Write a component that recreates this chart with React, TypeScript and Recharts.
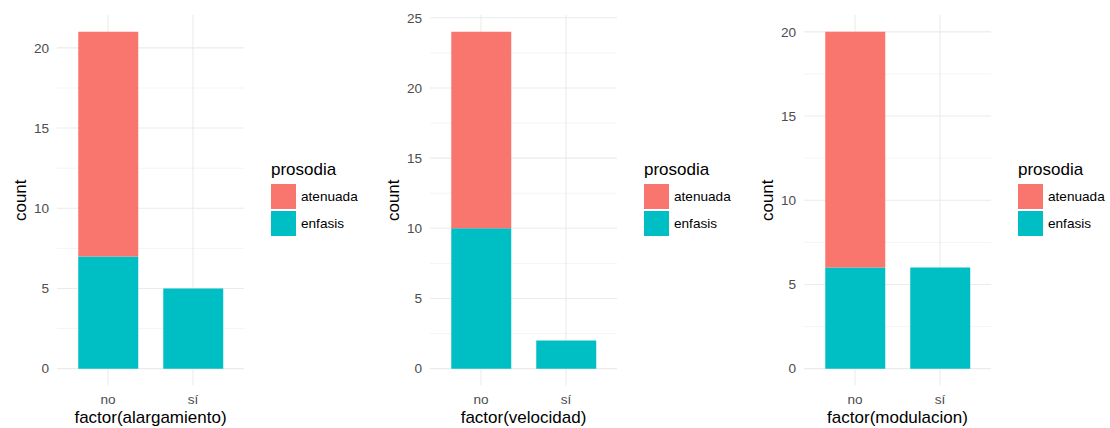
import React from "react";
import { BarChart, Bar, XAxis, YAxis, CartesianGrid, Legend } from "recharts";

const categories = ["no", "sí"];
const seriesNames = ["atenuada", "enfasis"];
const seriesColors = ["#F8766D", "#00BFC4"];

const alargamientoAtenuada = [14, 0];
const alargamientoEnfasis = [7, 5];
const velocidadAtenuada = [14, 0];
const velocidadEnfasis = [10, 2];
const modulacionAtenuada = [14, 0];
const modulacionEnfasis = [6, 6];

const alargamientoTicks = [0, 5, 10, 15, 20];
const velocidadTicks = [0, 5, 10, 15, 20, 25];
const modulacionTicks = [0, 5, 10, 15, 20];

const alargamientoMinor = [2.5, 7.5, 12.5, 17.5];
const velocidadMinor = [2.5, 7.5, 12.5, 17.5, 22.5];
const modulacionMinor = [2.5, 7.5, 12.5, 17.5];

const FONT = "'Liberation Sans', Arial, Helvetica, sans-serif";

// legend drawn like ggplot's guide: title + square keys
const PanelLegend = () => (
	<div style={{ fontFamily: FONT, color: "#000" }}>
		<div style={{ fontSize: 17, lineHeight: "20px", height: 20, marginBottom: 4 }}>
			prosodia
		</div>
		{seriesNames.map((name, i) => (
			<div
				key={name}
				style={{ display: "flex", alignItems: "center", height: 25, marginBottom: 2 }}
			>
				<div style={{ width: 25, height: 25, background: seriesColors[i] }} />
				<span style={{ fontSize: 13.6, marginLeft: 5 }}>{name}</span>
			</div>
		))}
	</div>
);

type PanelProps = {
	xTitle: string;
	atenuada: number[];
	enfasis: number[];
	ticks: number[];
	minor: number[];
	left: number;
};

const Panel = ({ xTitle, atenuada, enfasis, ticks, minor, left }: PanelProps) => {
	const data = categories.map((c, i) => ({
		cat: c,
		atenuada: atenuada[i],
		enfasis: enfasis[i],
	}));
	const top = Math.max(...data.map((d) => d.atenuada + d.enfasis));
	// ggplot default 5% expansion
	const pad = top * 0.05;

	const xLabel = (props: any) => {
		const vb = props.viewBox || { x: 57, y: 385.5, width: 187, height: 42.5 };
		return (
			<text
				x={vb.x + vb.width / 2}
				y={vb.y + 37.5}
				textAnchor="middle"
				fontFamily={FONT}
				fontSize={17}
				fill="#000"
			>
				{xTitle}
			</text>
		);
	};

	const yLabel = (props: any) => {
		const vb = props.viewBox || { x: 0, y: 15, width: 57, height: 370.5 };
		const cx = vb.x + vb.width - 37;
		const cy = vb.y + vb.height / 2;
		return (
			<text
				x={cx}
				y={cy}
				transform={`rotate(-90 ${cx} ${cy})`}
				textAnchor="middle"
				dominantBaseline="central"
				fontFamily={FONT}
				fontSize={17}
				fill="#000"
			>
				count
			</text>
		);
	};

	return (
		<div style={{ position: "absolute", left, top: 0 }}>
			<BarChart
				width={363}
				height={428}
				data={data}
				margin={{ top: 15, right: 119, bottom: 0, left: 0 }}
				barCategoryGap="15%"
			>
				<CartesianGrid
					horizontalValues={minor}
					vertical={false}
					syncWithTicks
					stroke="#f1f1f1"
					strokeWidth={0.8}
				/>
				<CartesianGrid
					horizontalValues={ticks}
					syncWithTicks
					stroke="#ebebeb"
					strokeWidth={1.07}
				/>
				<XAxis
					dataKey="cat"
					height={42.5}
					padding={{ left: 8.5, right: 8.5 }}
					axisLine={false}
					tickLine={false}
					tickSize={0}
					tickMargin={9}
					tick={{ fill: "#4d4d4d", fontSize: 13.6, fontFamily: FONT }}
					label={xLabel}
				/>
				<YAxis
					type="number"
					width={57}
					domain={[-pad, top + pad]}
					ticks={ticks}
					allowDataOverflow
					axisLine={false}
					tickLine={false}
					tickSize={0}
					tickMargin={8}
					tick={{ fill: "#4d4d4d", fontSize: 13.6, fontFamily: FONT }}
					label={yLabel}
				/>
				<Bar dataKey="enfasis" stackId="a" fill={seriesColors[1]} isAnimationActive={false} />
				<Bar dataKey="atenuada" stackId="a" fill={seriesColors[0]} isAnimationActive={false} />
				<Legend
					layout="horizontal"
					align="center"
					verticalAlign="middle"
					content={() => <PanelLegend />}
					wrapperStyle={{ left: 271, top: 160, width: 130, height: 80 }}
				/>
			</BarChart>
		</div>
	);
};

export default function App() {
	return (
		<div
			style={{
				position: "absolute",
				left: 0,
				top: 0,
				width: 1110,
				height: 428,
				background: "#fff",
				overflow: "hidden",
			}}
		>
			<Panel
				xTitle="factor(alargamiento)"
				atenuada={alargamientoAtenuada}
				enfasis={alargamientoEnfasis}
				ticks={alargamientoTicks}
				minor={alargamientoMinor}
				left={0}
			/>
			<Panel
				xTitle="factor(velocidad)"
				atenuada={velocidadAtenuada}
				enfasis={velocidadEnfasis}
				ticks={velocidadTicks}
				minor={velocidadMinor}
				left={373}
			/>
			<Panel
				xTitle="factor(modulacion)"
				atenuada={modulacionAtenuada}
				enfasis={modulacionEnfasis}
				ticks={modulacionTicks}
				minor={modulacionMinor}
				left={747}
			/>
		</div>
	);
}
